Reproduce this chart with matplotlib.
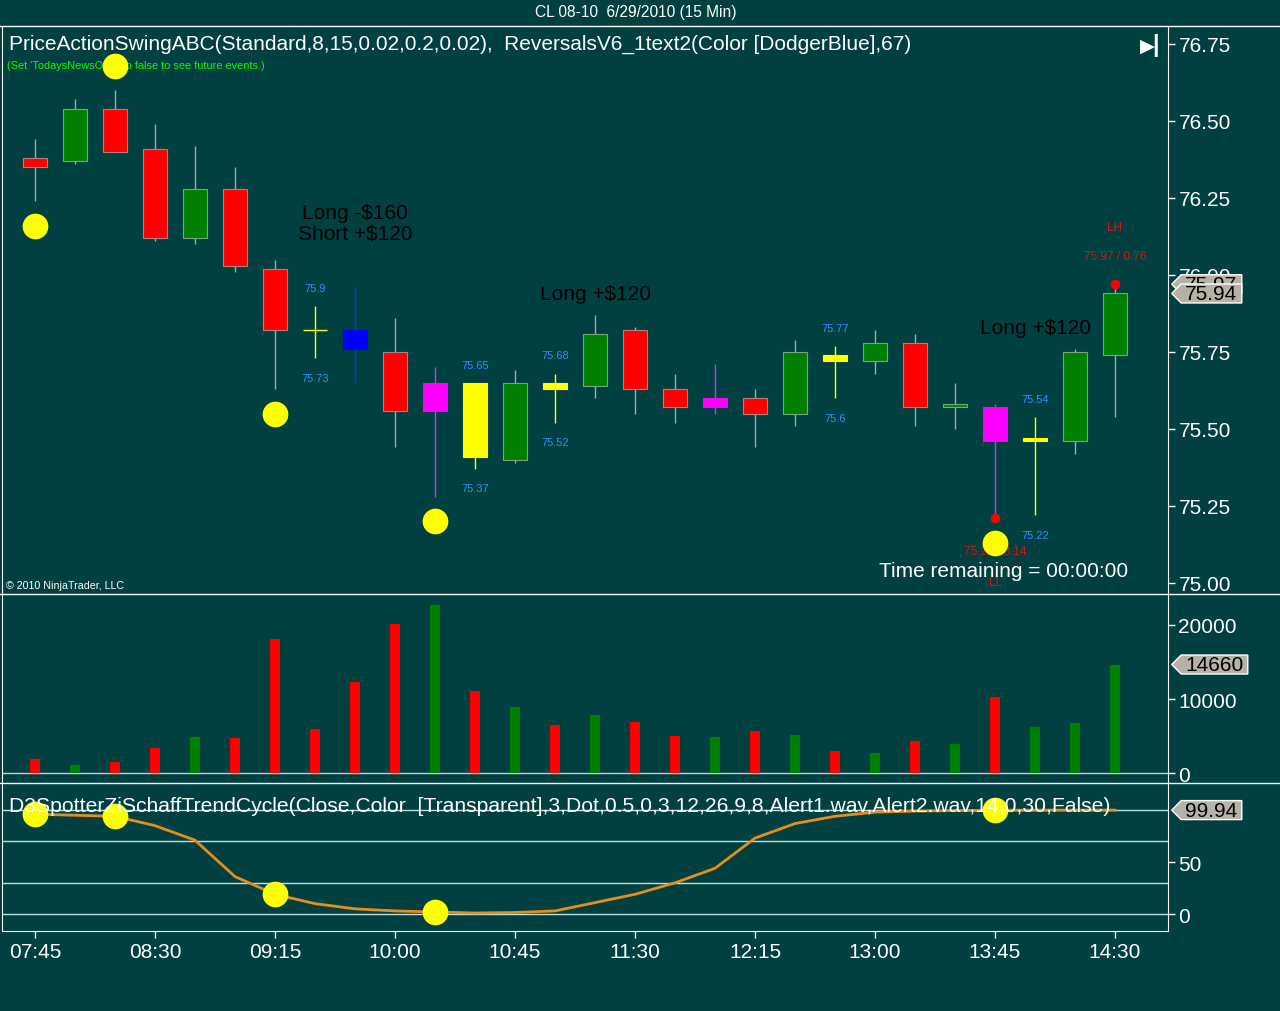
import matplotlib
matplotlib.use("Agg")
import matplotlib.pyplot as plt
from matplotlib.path import Path
from matplotlib.lines import Line2D

plt.rcParams['font.family'] = ['Liberation Sans', 'DejaVu Sans']

# 15 min bars, CL 08-10, 6/29/2010
times = ['07:45', '08:00', '08:15', '08:30', '08:45', '09:00', '09:15', '09:30', '09:45', '10:00',
         '10:15', '10:30', '10:45', '11:00', '11:15', '11:30', '11:45', '12:00', '12:15', '12:30',
         '12:45', '13:00', '13:15', '13:30', '13:45', '14:00', '14:15', '14:30']
opens = [76.38, 76.37, 76.54, 76.41, 76.12, 76.28, 76.02, 75.82, 75.82, 75.75, 75.56, 75.65, 75.40, 75.65,
         75.64, 75.82, 75.63, 75.57, 75.60, 75.55, 75.74, 75.72, 75.78, 75.57, 75.57, 75.46, 75.46, 75.74]
highs = [76.44, 76.57, 76.60, 76.49, 76.42, 76.35, 76.05, 75.90, 75.96, 75.86, 75.70, 75.65, 75.69, 75.68,
         75.87, 75.83, 75.68, 75.71, 75.63, 75.79, 75.77, 75.82, 75.81, 75.65, 75.58, 75.54, 75.76, 75.97]
lows = [76.24, 76.36, 76.40, 76.11, 76.10, 76.01, 75.63, 75.73, 75.65, 75.44, 75.28, 75.37, 75.39, 75.52,
        75.60, 75.55, 75.52, 75.55, 75.44, 75.51, 75.60, 75.68, 75.51, 75.50, 75.21, 75.22, 75.42, 75.54]
closes = [76.35, 76.54, 76.40, 76.12, 76.28, 76.03, 75.82, 75.82, 75.76, 75.56, 75.65, 75.41, 75.65, 75.63,
          75.81, 75.63, 75.57, 75.60, 75.55, 75.75, 75.72, 75.78, 75.57, 75.58, 75.46, 75.47, 75.75, 75.94]
bar_colors = ['red', 'green', 'red', 'red', 'green', 'red', 'red', 'yellow', 'blue', 'red', 'magenta',
              'yellow', 'green', 'yellow', 'green', 'red', 'red', 'magenta', 'red', 'green', 'yellow',
              'green', 'red', 'green', 'magenta', 'yellow', 'green', 'green']
volume = [1900, 1100, 1500, 3400, 4900, 4700, 18100, 5900, 12300, 20100, 22700, 11100, 8900, 6500,
          7800, 6900, 5000, 4850, 5650, 5100, 2950, 2700, 4300, 3900, 10270, 6200, 6750, 14660]
stc = [96, 95, 94, 85, 71, 36, 19, 10, 5, 3, 2, 1, 1.5, 3, 11, 19, 30, 44, 73, 87, 94, 98, 99,
       99.5, 99.8, 99.9, 99.9, 99.94]

# yellow signal dots (price panel) and the bars they sit on
dot_bars = [0, 2, 6, 10, 24]
dot_prices = [76.16, 76.68, 75.55, 75.20, 75.13]

# reversal bars that get high/low labels
label_bars = [7, 11, 13, 20, 25]

# swing points
swing_bars = [24, 27]
swing_prices = [75.21, 75.97]
swing_sizes = [0.14, 0.76]
swing_tags = ['LL', 'LH']

# trade results
trade_bars = [8, 14, 25]
trade_prices = [76.17, 75.94, 75.83]
trade_texts = ['Long -$160\nShort +$120', 'Long +$120', 'Long +$120']

stc_levels = [0, 30, 70, 100]

BG = '#004040'
W, H = 1280, 1012
fig = plt.figure(figsize=(W / 100, H / 100), dpi=100, facecolor=BG)


def px_axes(x0, y0, x1, y1):
    ax = fig.add_axes([x0 / W, 1 - y1 / H, (x1 - x0) / W, (y1 - y0) / H], facecolor=BG)
    for s in ax.spines.values():
        s.set_color('white')
    ax.spines['top'].set_visible(False)
    ax.spines['bottom'].set_visible(False)
    ax.yaxis.tick_right()
    ax.tick_params(axis='y', colors='white', labelsize=15, length=5, width=1, pad=2.5)
    ax.set_xticks([])
    ax.set_xlim(-0.825, 28.325)
    return ax


def tag_box(x0, y0, width, height, mutation_size):
    padx = mutation_size * 0.2
    x0, x1 = x0 - padx, x0 + width + padx
    y1 = y0 + height
    h = height / 2
    return Path([(x0, y0), (x1, y0), (x1, y1), (x0, y1), (x0 - h, y0 + h), (x0, y0)], closed=True)


def tag(ax, y, text, z=10):
    ax.annotate(text, xy=(1, y), xycoords=ax.get_yaxis_transform(), xytext=(12.5, 0),
                textcoords='offset points', ha='left', va='center', fontsize=15, color='black',
                bbox=dict(boxstyle=tag_box, fc='#B8B2A6', ec='white', lw=1),
                annotation_clip=False, zorder=z)


ax_p = px_axes(2, 27, 1168, 594)
ax_v = px_axes(2, 595, 1168, 783)
ax_s = px_axes(2, 784, 1168, 932)

# ---- price panel ----
face = {'red': '#FF0000', 'green': '#008000', 'yellow': '#FFFF00', 'blue': '#0000FF', 'magenta': '#FF00FF'}
wick = {'red': '#A8A8A8', 'green': '#A8A8A8', 'yellow': '#FFFF00', 'blue': '#2030D0', 'magenta': '#B040FF'}
edge = {'red': '#B08080', 'green': '#80A080', 'yellow': '#FFFF00', 'blue': '#0000FF', 'magenta': '#FF00FF'}

for i in range(len(times)):
    c = bar_colors[i]
    ax_p.vlines(i, lows[i], highs[i], color=wick[c], lw=1, zorder=2)
    lo, hi = min(opens[i], closes[i]), max(opens[i], closes[i])
    if hi - lo < 0.005:
        ax_p.hlines(opens[i], i - 0.3, i + 0.3, color=face[c], lw=1, zorder=3)
    else:
        ax_p.bar(i, hi - lo, bottom=lo, width=0.6, color=face[c], edgecolor=edge[c], lw=0.8, zorder=3)

ax_p.plot(dot_bars, dot_prices, 'o', color='#FFFF00', ms=17.5, mec='#FFFF00', zorder=6)

for i in label_bars:
    ax_p.annotate('%g' % highs[i], xy=(i, highs[i]), xytext=(0, 13), textcoords='offset points',
                  ha='center', va='center', fontsize=8, color='#2E8FFF')
    ax_p.annotate('%g' % lows[i], xy=(i, lows[i]), xytext=(0, -14), textcoords='offset points',
                  ha='center', va='center', fontsize=8, color='#2E8FFF')

for b, p, sz, t in zip(swing_bars, swing_prices, swing_sizes, swing_tags):
    up = t.endswith('H')
    ax_p.plot(b, p, 'o', color='#FF0000', ms=6, zorder=5)
    ax_p.annotate('%.2f / %.2f' % (p, sz), xy=(b, p), xytext=(0, 20.5 if up else -23.5),
                  textcoords='offset points', ha='center', va='center', fontsize=8.5,
                  color='#D01818', zorder=4)
    ax_p.annotate(t, xy=(b, p), xytext=(0, 41.5 if up else -45.5), textcoords='offset points',
                  ha='center', va='center', fontsize=8.5, color='#D01818', zorder=4)

for b, p, t in zip(trade_bars, trade_prices, trade_texts):
    ax_p.text(b, p, t, ha='center', va='center', fontsize=15, color='black', linespacing=1.1)

ax_p.set_ylim(74.9675, 76.8084)
ax_p.set_yticks([75.00, 75.25, 75.50, 75.75, 76.00, 76.25, 76.50, 76.75])
ax_p.set_yticklabels(['%.2f' % v for v in ax_p.get_yticks()])

ax_p.text(0.006, 0.970, 'PriceActionSwingABC(Standard,8,15,0.02,0.2,0.02),  ReversalsV6_1text2(Color [DodgerBlue],67)',
          transform=ax_p.transAxes, ha='left', va='center', fontsize=15, color='white')
ax_p.text(0.004, 0.931, "(Set 'TodaysNewsOnly' to false to see future events.)",
          transform=ax_p.transAxes, ha='left', va='center', fontsize=7.9, color='#00FF00', zorder=1)
ax_p.text(0.0035, 0.014, '\u00a9 2010 NinjaTrader, LLC', transform=ax_p.transAxes,
          ha='left', va='center', fontsize=7.7, color='white')
ax_p.text(0.9655, 0.039, 'Time remaining = 00:00:00', transform=ax_p.transAxes,
          ha='right', va='center', fontsize=15, color='white')
ax_p.text(0.982, 0.967, '\u25b6', transform=ax_p.transAxes, ha='center', va='center',
          fontsize=14, color='white', family='DejaVu Sans')
ax_p.text(0.989, 0.967, '|', transform=ax_p.transAxes, ha='center', va='center',
          fontsize=17, color='white', fontweight='bold')

tag(ax_p, swing_prices[-1], '%.2f' % swing_prices[-1], z=9)
tag(ax_p, closes[-1], '%.2f' % closes[-1], z=10)

# ---- volume panel ----
vol_colors = ['#008000' if c > o else '#FF0000' for o, c in zip(opens, closes)]
ax_v.bar(range(len(volume)), volume, width=0.25, color=vol_colors, zorder=3)
ax_v.axhline(0, color='#C8C8C8', lw=1, zorder=2)
ax_v.set_ylim(-1216, 24189)
ax_v.set_yticks([0, 10000, 20000])
ax_v.set_yticklabels(['0', '10000', '20000'])
tag(ax_v, volume[-1], str(volume[-1]))

# ---- Schaff trend cycle panel ----
for lv in stc_levels:
    ax_s.axhline(lv, color='#B8E4E4', lw=1, zorder=1)
ax_s.plot(range(len(stc)), stc, color='#E58E1A', lw=2, zorder=3)
ax_s.plot(dot_bars, [stc[i] for i in dot_bars], 'o', color='#FFFF00', ms=17.5, mec='#FFFF00', zorder=4)
ax_s.set_ylim(-16.3, 126)
ax_s.set_yticks([0, 50])
ax_s.set_yticklabels(['0', '50'])
ax_s.spines['bottom'].set_visible(True)
ax_s.set_xticks(range(0, len(times), 3))
ax_s.set_xticklabels(times[::3])
ax_s.tick_params(axis='x', colors='white', labelsize=15, length=5, width=1, pad=3)
ax_s.text(0.006, 0.845,
          'D3SpotterZiSchaffTrendCycle(Close,Color  [Transparent],3,Dot,0.5,0,3,12,26,9,8,Alert1.wav,Alert2.wav,14,0,30,False)',
          transform=ax_s.transAxes, ha='left', va='center', fontsize=15.25, color='white', zorder=5)
tag(ax_s, stc[-1], '%.2f' % stc[-1])

# panel separators across the full width
for yy in [27, 594.5, 784]:
    fig.add_artist(Line2D([0, 1], [1 - yy / H, 1 - yy / H], transform=fig.transFigure, color='white', lw=1))

fig.text(636 / W, 1 - 13 / H, 'CL 08-10  6/29/2010 (15 Min)', ha='center', va='center', color='white', fontsize=11.2)

fig.savefig('out.png', dpi=100, facecolor=BG)
